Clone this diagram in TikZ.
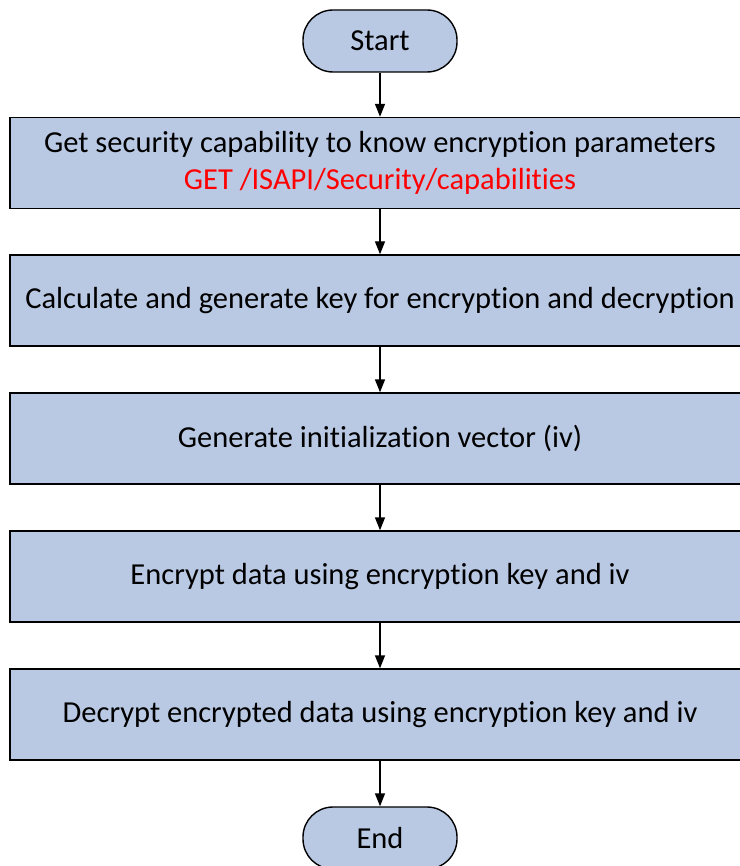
\documentclass[tikz,border=0pt]{standalone}
\usepackage{fontspec}
\setmainfont{Carlito}[Ligatures=NoCommon]
\usetikzlibrary{arrows.meta}
\definecolor{boxblue}{RGB}{185,201,228}
\tikzset{>={Triangle[width=10pt,length=13pt]}}
\tikzset{
  stepbox/.style = {
    draw, line width=1.4pt, fill=boxblue,
    minimum width=740pt, minimum height=91pt, inner sep=0pt,
    align=center, font=\fontsize{30.5}{37}\selectfont
  },
  terminal/.style = {
    draw, line width=1.4pt, fill=boxblue, rounded corners=30pt,
    minimum width=154pt, minimum height=62pt, inner sep=0pt,
    font=\fontsize{30.5}{37}\selectfont
  },
  flow/.style = {->, line width=1.4pt}
}

\begin{document}
\begin{tikzpicture}[x=1pt,y=-1pt]
  \useasboundingbox (0,0) rectangle (739,866);
  \node[terminal] (start) at (380,41) {Start};
  \node[stepbox] (cap) at (380,163) {Get security capability to know encryption parameters\\
    \textcolor{red}{GET /ISAPI/Security/capabilities}};
  \node[stepbox] (key) at (380,300.5) {Calculate and generate key for encryption and decryption};
  \node[stepbox] (iv) at (380,438.5) {Generate initialization vector (iv)};
  \node[stepbox] (enc) at (380,576.5) {Encrypt data using encryption key and iv};
  \node[stepbox] (dec) at (380,714.5) {Decrypt encrypted data using encryption key and iv};
  \node[terminal] (end) at (380,838) {End};
  \draw[flow] (start) -- (cap);
  \draw[flow] (cap) -- (key);
  \draw[flow] (key) -- (iv);
  \draw[flow] (iv) -- (enc);
  \draw[flow] (enc) -- (dec);
  \draw[flow] (dec) -- (end);
\end{tikzpicture}
\end{document}
